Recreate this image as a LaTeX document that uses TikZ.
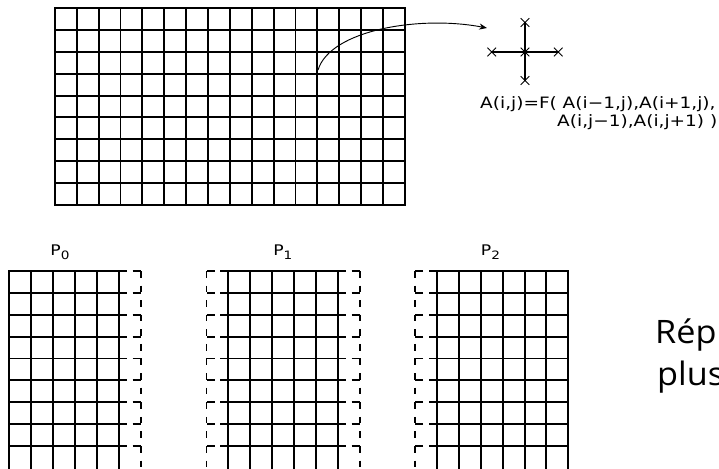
\documentclass[tikz,border=0pt]{standalone}
\usepackage{fontspec}
\newfontfamily\figfont[FakeStretch=1.18]{DejaVu Sans}
\newfontfamily\slidefont[FakeStretch=1.06]{Open Sans}
\usetikzlibrary{shapes.misc,arrows.meta}
\newcommand\procsub[1]{\raisebox{-.5ex}{\fontsize{7.5}{8}\selectfont #1}}

\begin{document}
\begin{tikzpicture}[x=0.5cm,y=-0.5cm,
  cell/.style={line width=1.25pt,line cap=rect},
  ghosth/.style={line width=1.25pt,dash pattern=on 5.2pt off 3.8pt},
  ghostv/.style={line width=1.25pt,dash pattern=on 4.3pt off 5.18pt},
  xmark/.style={cross out,draw,line width=.6pt,minimum size=5pt,inner sep=0pt},
  formula/.style={font=\figfont\fontsize{10.2}{12}\selectfont,inner sep=0pt,anchor=base west},
  proc/.style={font=\figfont\fontsize{9.5}{11}\selectfont,inner sep=0pt,anchor=base west},
  slide/.style={font=\slidefont\fontsize{21}{24}\selectfont,inner sep=0pt,anchor=base west}]
  \path[use as bounding box,clip] (0,0) rectangle (32.87,21.44);

  % Whole array, 16 x 9 cells
  \foreach \i in {0,...,16} \draw[cell] (2.51+\i,0.37) -- (2.51+\i,9.37);
  \foreach \j in {0,...,9} \draw[cell] (2.51,0.37+\j) -- (18.51,0.37+\j);

  % Stencil
  \node[xmark] (ctr) at (24,2.38) {};
  \node[xmark] (up) at (24,1.03) {};
  \node[xmark] (dn) at (24,3.68) {};
  \node[xmark] (lf) at (22.48,2.38) {};
  \node[xmark] (rt) at (25.52,2.38) {};
  \draw[line width=.8pt] (up.center) -- (dn.center) (lf.center) -- (rt.center);

  \coordinate (src) at (14.54,3.2);
  \coordinate (dst) at (22.26,1.28);
  \draw[line width=.6pt,-{Stealth[length=5pt,width=4pt]}] (src) .. controls (15.09,1.37) and (19.2,0.69) .. (dst);

  \node[formula] (eq1) at (21.94,4.94) {A(i,j)=F( A(i−1,j),A(i+1,j),};
  \node[formula] (eq2) at (25.46,5.8) {A(i,j−1),A(i,j+1) )};

  % P0, ghost column on the right
  \foreach \i in {0,...,5} \draw[cell] (0.43+\i,12.39) -- (0.43+\i,21.6);
  \foreach \j in {0,...,8} {
    \draw[cell] (0.43,12.39+\j) -- (5.43,12.39+\j);
    \draw[ghosth] (5.43,12.39+\j) -- (6.43,12.39+\j);
  }
  \draw[ghostv] (6.43,12.39) -- (6.43,21.6);

  % P1, ghost columns on both sides
  \foreach \i in {0,...,5} \draw[cell] (10.44+\i,12.39) -- (10.44+\i,21.6);
  \foreach \j in {0,...,8} {
    \draw[cell] (10.44,12.39+\j) -- (15.44,12.39+\j);
    \draw[ghosth] (10.44,12.39+\j) -- (9.44,12.39+\j);
    \draw[ghosth] (15.44,12.39+\j) -- (16.44,12.39+\j);
  }
  \draw[ghostv] (9.44,12.39) -- (9.44,21.6);
  \draw[ghostv] (16.44,12.39) -- (16.44,21.6);

  % P2, ghost column on the left
  \foreach \i in {0,...,6} \draw[cell] (19.98+\i,12.39) -- (19.98+\i,21.6);
  \foreach \j in {0,...,8} {
    \draw[cell] (19.98,12.39+\j) -- (25.98,12.39+\j);
    \draw[ghosth] (19.98,12.39+\j) -- (18.98,12.39+\j);
  }
  \draw[ghostv] (18.98,12.39) -- (18.98,21.6);

  \node[proc] (p0) at (2.29,11.66) {P\procsub{0}};
  \node[proc] (p1) at (12.48,11.66) {P\procsub{1}};
  \node[proc] (p2) at (21.97,11.66) {P\procsub{2}};

  \node[slide] (rep) at (29.94,15.7) {Rép};
  \node[slide] (plus) at (30.03,17.62) {plus};
\end{tikzpicture}
\end{document}
